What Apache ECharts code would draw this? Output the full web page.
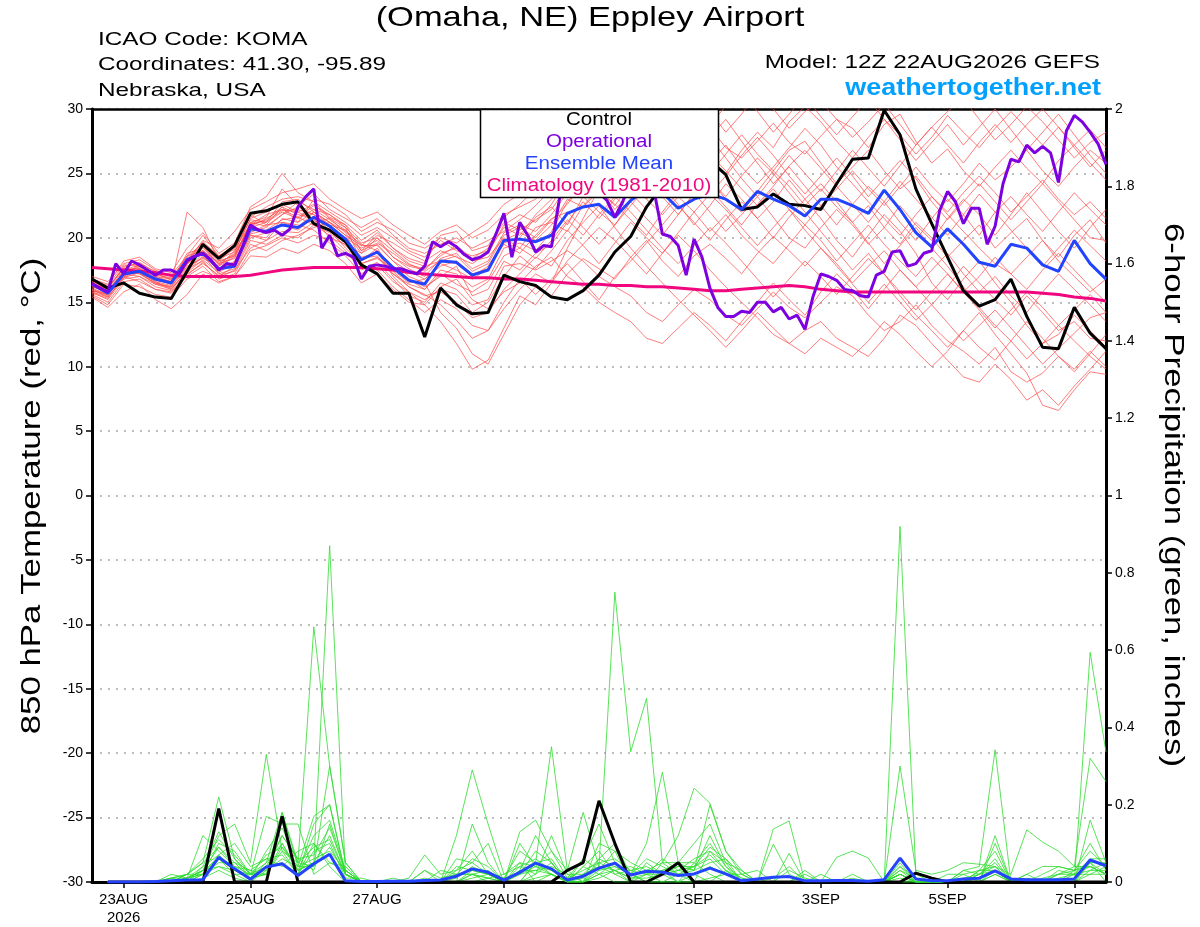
<!DOCTYPE html>
<html><head><meta charset="utf-8">
<script src="https://cdn.jsdelivr.net/npm/echarts@6/dist/echarts.min.js"></script>
<style>html,body{margin:0;padding:0;background:#fff}#c{width:1200px;height:927px}</style>
</head><body><div id="c"></div>
<script>
const FONT = '"Liberation Sans", Arial, Helvetica, sans-serif';

// ---- axis ticks (hours after 12Z 22AUG2026) ----
const tickHours = [12, 60, 108, 156, 228, 276, 324, 372];
const tickLabels = ['23AUG\n2026', '25AUG', '27AUG', '29AUG', '1SEP', '3SEP', '5SEP', '7SEP'];

// ---- 850 hPa temperature (6-hourly, 65 steps) ----
const controlTemp = [16.8,16.1,16.5,15.7,15.4,15.3,17.4,19.5,18.4,19.4,
 21.9,22.1,22.6,22.8,21.1,20.6,19.7,17.9,17.2,15.7,15.7,12.3,
 16.1,14.8,14.1,14.2,17.1,16.6,16.3,15.4,15.2,15.9,17.1,18.9,
 20.1,22.4,24.0,25.0,26.5,26.0,24.9,22.2,22.4,23.4,22.6,22.5,
 22.2,24.2,26.1,26.2,29.9,28.0,23.8,21.1,18.5,15.9,14.7,15.2,
 16.8,13.9,11.5,11.4,14.6,12.6,11.4];
const meanTemp = [16.4,15.7,17.2,17.4,16.8,16.5,18.3,18.8,17.6,17.8,
 20.7,20.5,21.0,20.8,21.6,20.9,19.9,18.3,18.9,17.7,16.7,16.4,
 18.2,18.1,17.1,17.5,19.8,19.9,19.7,20.2,21.9,22.4,22.6,21.6,
 22.9,23.8,23.5,22.3,23.0,23.4,23.0,22.2,23.6,23.0,22.5,21.7,
 23.0,23.0,22.5,21.9,23.7,22.2,20.4,19.3,20.7,19.5,18.1,17.8,
 19.5,19.2,17.9,17.4,19.8,18.0,16.8];
const climoTemp = [17.7,17.6,17.5,17.4,17.3,17.1,17.0,17.0,17.0,17.0,
 17.1,17.3,17.5,17.6,17.7,17.7,17.7,17.7,17.6,17.5,17.3,17.2,
 17.1,17.0,16.9,16.9,16.8,16.8,16.7,16.6,16.5,16.4,16.4,16.3,
 16.3,16.2,16.2,16.1,16.0,15.9,15.9,16.0,16.1,16.2,16.3,16.2,
 16.0,15.9,15.8,15.8,15.8,15.8,15.8,15.8,15.8,15.8,15.8,15.8,
 15.8,15.8,15.7,15.6,15.4,15.3,15.1];
// operational run, 3-hourly (129 steps)
const operationalTemp = [16.45,16.1,15.8,18.0,17.2,18.2,17.9,17.5,17.1,17.5,
 17.5,17.2,18.2,18.6,18.8,18.3,17.5,18.0,17.9,19.3,
 21.0,20.6,20.4,20.6,20.2,20.7,22.4,23.2,23.8,19.2,
 20.2,18.6,18.8,18.5,16.8,17.8,17.9,17.8,17.6,17.6,
 17.4,17.2,17.8,19.7,19.3,19.7,19.3,18.7,18.3,18.5,
 18.9,20.3,21.9,18.5,21.2,20.2,18.9,19.4,19.3,23.0,
 24.5,25.0,24.0,24.5,23.5,22.9,21.6,22.8,24.5,25.5,
 25.0,23.5,20.3,20.1,19.4,17.1,19.9,18.5,16.1,14.6,
 13.9,13.9,14.3,14.2,15.0,15.0,14.25,14.6,13.7,14.0,
 12.9,15.4,17.2,17.0,16.7,16.0,15.9,15.5,15.4,17.1,
 17.4,18.9,19.0,17.8,18.0,18.8,19.0,22.1,23.6,22.8,
 21.1,22.3,22.3,19.5,20.9,24.2,26.1,25.9,27.2,26.6,
 27.1,26.6,24.3,28.3,29.5,29.0,28.2,27.3,25.7];

// ensemble members (6-hourly)
const memberTemp01 = [16.2,15.9,17.5,17.9,17.2,16.8,18.5,19.6,18.4,18.9,
 21.5,22.0,22.6,22.0,21.4,20.5,20.0,19.2,19.8,18.5,17.6,17.0,
 18.4,18.8,17.6,18.2,20.4,21.0,20.5,21.8,23.5,24.6,25.2,24.0,
 25.5,26.8,27.5,26.2,27.8,28.6,27.0,26.2,27.5,28.9,27.4,26.5,
 27.9,29.2,28.5,27.0,28.8,29.6,27.5,25.8,26.9,25.2,24.0,25.5,
 26.8,25.4,24.2,26.0,27.2,25.8,24.5];
const memberTemp02 = [15.8,15.2,16.8,17.0,16.2,15.9,17.2,18.0,17.1,17.4,
 19.8,19.5,20.2,20.0,21.0,20.2,19.0,17.5,18.1,16.8,15.5,15.0,
 16.5,16.0,14.8,15.2,17.8,18.0,17.5,18.2,19.0,18.2,17.0,16.2,
 15.5,14.2,13.5,14.8,16.0,15.2,14.0,13.2,14.5,15.8,14.6,13.8,
 15.0,16.2,15.5,14.0,12.8,13.5,14.8,13.2,12.0,11.2,10.2,11.5,
 9.6,8.8,9.5,10.8,9.8,11.2,10.0];
const memberTemp03 = [16.8,16.4,18.2,18.5,17.6,17.3,19.2,20.4,18.8,19.6,
 22.4,23.2,25.0,23.5,22.8,21.6,21.0,19.8,20.6,19.2,18.4,18.0,
 20.2,20.5,19.0,19.4,21.2,20.6,21.4,22.2,24.0,23.2,22.0,21.0,
 22.5,24.0,23.2,21.8,23.4,24.5,23.0,22.0,23.6,25.2,24.0,22.5,
 23.8,22.4,21.2,22.5,20.8,19.5,21.2,20.0,18.5,19.8,21.0,19.2,
 20.4,21.5,19.8,18.5,20.2,21.4,19.6];
const memberTemp04 = [15.5,14.8,16.4,16.2,15.6,15.4,16.8,17.4,16.9,17.5,
 19.2,19.8,20.5,20.4,21.2,21.5,20.4,18.8,19.5,18.2,17.0,16.5,
 14.2,13.0,11.0,10.2,12.5,14.8,16.2,15.5,17.2,18.4,17.6,16.8,
 18.5,19.8,18.2,17.0,18.6,19.5,18.4,17.2,18.8,20.1,19.0,17.8,
 19.2,18.0,16.5,17.8,19.0,17.5,16.2,17.5,18.8,17.2,15.8,17.0,
 15.5,14.2,15.8,17.2,16.0,14.8,13.5];
const memberTemp05 = [16.0,15.6,17.0,17.6,16.8,16.4,22.0,20.8,18.2,18.6,
 21.0,21.8,22.2,21.6,22.5,21.8,20.8,18.2,19.0,17.8,16.8,16.0,
 17.5,17.2,16.2,16.8,19.2,19.6,19.0,20.5,22.8,24.0,26.5,25.2,
 26.8,28.5,29.6,28.0,26.5,27.8,29.2,27.5,25.8,24.2,25.5,24.0,
 22.5,21.0,22.6,24.0,22.8,21.2,19.8,21.5,23.0,21.8,20.2,22.0,
 23.2,21.8,20.5,22.0,23.5,22.2,21.0];
const memberTemp06 = [16.5,16.0,17.8,18.0,17.0,16.8,18.0,19.0,17.5,18.0,
 20.2,20.0,21.5,21.2,22.0,21.2,20.5,19.5,19.0,17.0,15.8,14.8,
 13.5,11.8,9.8,10.5,13.0,15.5,14.8,16.5,19.2,21.5,23.8,22.5,
 24.2,25.8,24.0,22.6,21.0,22.5,24.2,23.0,21.5,22.8,24.5,23.0,
 21.5,19.8,18.5,20.2,21.8,20.5,18.8,16.5,15.2,16.8,18.2,16.5,
 15.0,13.2,11.8,12.5,14.0,12.8,11.5];
const memberTemp07 = [16.2,15.8,17.4,17.7,16.9,16.6,18.8,19.2,18.0,18.4,
 21.2,21.6,23.8,22.5,23.4,22.2,21.5,20.8,21.5,20.2,19.2,18.8,
 19.5,20.0,19.2,19.8,20.5,21.4,22.5,23.8,25.5,27.0,28.2,27.5,
 28.8,30.0,29.2,27.5,26.0,24.5,23.2,24.8,26.2,25.0,23.5,22.0,
 20.5,19.0,17.5,18.8,17.2,15.5,14.0,12.8,11.5,12.8,14.2,12.5,
 11.0,9.5,7.0,6.6,8.2,9.6,9.4];
const memberTemp08 = [16.6,16.2,17.6,17.2,16.5,16.2,17.8,18.4,17.8,19.0,
 20.5,20.8,21.8,22.4,21.8,20.8,19.8,18.5,18.8,17.5,16.5,16.8,
 18.0,17.5,16.8,17.6,19.5,18.8,20.2,21.5,22.0,20.8,19.5,21.0,
 22.8,21.5,20.2,21.8,23.5,22.0,20.5,21.8,23.2,21.6,20.0,19.2,
 20.8,22.2,21.0,19.5,20.8,22.5,21.0,19.8,21.5,23.0,21.8,20.2,
 21.8,23.5,22.0,20.5,19.2,20.8,22.2];
const memberTemp09 = [15.9,15.5,17.2,17.4,16.6,16.0,17.5,18.8,17.4,18.2,
 20.8,21.2,22.0,21.5,22.2,21.8,21.0,19.0,20.2,19.6,18.8,18.2,
 19.0,18.5,18.0,18.8,21.0,21.8,21.2,22.6,24.5,25.8,24.6,26.0,
 27.2,25.8,24.5,26.0,27.5,26.2,25.0,26.8,28.2,27.0,29.0,30.2,
 29.0,27.5,26.2,27.8,29.2,28.0,26.5,27.8,29.5,28.2,27.0,28.5,
 29.8,28.5,27.2,28.6,27.0,25.5,26.8];
const memberTemp10 = [16.4,15.7,17.2,17.0,16.4,16.2,17.6,18.2,16.8,17.2,
 19.5,19.0,19.8,20.2,20.8,21.2,20.2,18.0,18.5,17.2,16.2,15.5,
 15.8,15.0,13.8,14.2,16.0,17.2,18.5,17.8,19.8,21.2,22.5,20.8,
 19.2,17.8,16.5,15.2,14.0,12.8,11.5,12.8,14.2,13.0,11.8,11.0,
 12.2,11.5,10.8,12.0,13.5,12.5,11.2,10.0,11.2,12.8,11.5,10.5,
 12.0,13.5,12.2,10.8,9.6,11.0,12.5];
const memberTemp11 = [17.0,16.6,18.0,18.3,17.5,17.0,18.2,19.8,19.2,20.5,
 22.2,22.8,23.5,23.8,24.2,23.0,22.2,21.5,22.0,21.0,20.2,19.5,
 20.5,21.0,20.0,20.6,21.8,22.4,23.0,24.5,26.2,27.8,26.5,27.2,
 26.0,24.8,26.2,27.8,26.5,25.0,26.5,28.0,26.5,25.2,26.8,27.5,
 25.8,24.2,25.5,26.8,25.2,23.8,24.8,23.2,22.0,23.5,24.8,23.5,
 22.0,23.2,24.5,23.0,21.8,22.8,21.5];
const memberTemp12 = [15.6,15.0,16.6,16.8,16.0,15.8,17.0,17.8,16.6,17.0,
 19.0,19.4,20.0,19.6,20.2,19.8,18.8,17.8,17.5,16.2,15.2,14.2,
 15.2,14.5,13.2,12.8,14.5,16.0,17.2,16.5,18.2,19.5,20.8,19.8,
 18.5,17.2,18.8,20.2,19.0,17.5,16.2,15.0,13.8,12.5,11.8,12.8,
 13.5,12.2,11.5,10.8,12.2,14.0,13.2,11.8,10.5,9.2,8.8,10.2,
 9.0,7.4,8.2,7.0,8.5,9.8,11.2];
const memberTemp13 = [16.3,15.8,17.3,17.5,16.7,16.5,18.0,19.0,18.0,18.8,
 21.8,21.0,22.4,21.8,21.5,20.0,19.5,18.8,20.0,18.5,17.8,17.5,
 18.8,19.2,18.2,18.5,20.0,19.2,20.8,21.2,20.5,22.5,23.8,22.2,
 23.5,22.2,24.8,25.5,24.0,25.8,27.2,25.5,24.2,25.5,27.0,28.5,
 27.2,25.5,24.2,22.8,21.5,20.2,21.8,23.2,21.8,20.5,19.2,18.0,
 17.2,18.5,19.8,18.2,17.0,15.8,16.8];
const memberTemp14 = [15.8,15.4,16.9,17.3,16.4,16.0,17.4,18.6,17.2,17.6,
 20.0,20.4,21.0,20.6,21.6,20.6,19.2,18.0,18.4,17.6,16.8,16.2,
 17.0,17.8,15.5,16.0,18.2,17.5,18.8,19.5,21.2,22.8,21.5,23.0,
 24.5,23.0,21.8,23.2,22.0,20.5,21.8,20.2,19.0,18.0,19.5,21.0,
 19.8,18.2,19.6,21.0,19.5,18.2,17.0,18.5,17.2,15.8,17.0,18.5,
 17.2,16.0,17.5,18.8,17.5,16.2,15.0];
const memberTemp15 = [16.6,16.0,17.0,18.0,17.4,17.1,18.6,20.2,18.6,19.4,
 21.6,22.4,23.0,23.2,22.8,22.0,21.2,20.2,20.8,20.0,19.0,18.5,
 19.8,19.0,18.6,19.0,20.8,20.2,21.8,23.0,24.8,23.5,25.0,24.2,
 23.0,24.5,25.8,24.2,25.0,26.5,25.2,23.8,22.5,23.8,22.2,21.0,
 22.5,23.8,25.2,23.8,22.5,24.0,25.5,24.0,22.8,24.2,25.8,24.5,
 25.5,26.8,25.2,24.0,25.5,26.8,25.8];
const memberTemp16 = [15.4,14.6,15.8,16.4,15.2,14.5,15.6,17.2,16.5,17.0,
 18.6,18.5,19.2,18.8,19.5,19.0,18.0,16.5,17.2,16.0,15.0,14.8,
 16.2,16.8,15.2,14.5,15.8,16.5,17.8,18.5,17.0,16.2,15.0,14.2,
 13.5,12.2,11.8,13.0,14.2,13.2,12.0,13.5,15.0,16.5,15.2,14.0,
 15.8,17.2,16.0,14.5,16.0,17.5,16.2,14.8,16.2,17.8,16.5,15.2,
 14.0,15.5,14.2,12.8,13.5,12.2,12.0];
const memberTemp17 = [16.1,15.6,17.1,17.3,16.6,16.3,17.9,19.4,17.9,18.6,
 21.2,20.9,21.8,22.8,22.2,21.4,20.6,19.0,19.6,18.8,17.9,17.6,
 18.6,19.4,18.4,19.2,21.6,22.6,23.8,25.2,27.5,29.0,30.5,29.2,
 27.6,26.0,27.8,29.5,31.0,29.8,28.2,29.6,31.2,30.0,28.5,29.8,
 30.6,29.2,27.8,29.0,30.4,28.8,27.2,28.6,29.8,30.8,29.2,27.6,
 28.8,30.2,29.0,27.6,26.2,27.4,28.2];
const memberTemp18 = [16.0,15.4,16.9,17.6,16.9,16.5,17.7,18.5,17.6,18.0,
 20.4,21.0,21.2,20.8,22.0,21.0,19.6,18.2,19.2,17.4,16.2,15.6,
 14.8,13.6,12.2,12.8,15.0,16.8,15.6,16.8,18.0,16.6,15.2,17.0,
 18.2,19.6,21.0,22.5,21.2,19.8,21.4,22.8,21.5,20.0,21.6,23.0,
 24.2,22.8,21.2,19.6,18.0,19.4,20.8,19.2,17.8,16.2,14.6,13.2,
 12.0,10.6,11.8,13.2,12.0,10.8,9.8];
const memberTemp19 = [16.7,16.3,17.9,17.8,17.1,16.9,18.4,19.3,18.2,19.2,
 21.0,21.4,22.4,21.2,23.0,22.6,21.8,20.5,21.2,20.6,19.6,19.2,
 20.0,19.6,20.4,21.2,22.6,23.4,24.6,23.2,25.8,26.8,25.5,27.8,
 29.0,27.6,26.2,24.8,26.4,27.8,26.2,24.6,23.2,24.8,26.4,25.0,
 23.6,25.2,26.8,25.4,24.0,25.6,27.2,28.6,27.2,25.8,27.4,28.8,
 27.4,28.8,30.0,28.6,27.2,28.4,27.0];
const memberTemp20 = [15.7,15.3,17.0,16.6,16.0,15.7,17.1,18.1,17.0,17.8,
 20.2,19.8,21.2,21.0,20.6,19.6,18.6,17.2,17.9,16.6,15.8,15.2,
 16.0,15.6,14.2,15.0,17.0,18.6,17.6,19.0,20.6,19.4,18.0,19.6,
 21.2,20.0,18.8,20.4,22.0,23.4,22.2,20.8,19.4,20.8,22.2,20.6,
 19.2,17.8,16.4,15.0,16.4,15.0,13.6,14.8,13.4,12.0,13.2,14.4,
 13.0,11.6,10.2,11.4,12.6,13.8,14.2];
const memberTemp21 = [16.3,16.1,17.7,18.1,17.3,16.7,18.1,19.7,18.6,19.1,
 21.4,21.2,22.8,23.0,22.0,21.2,20.2,19.4,20.4,19.2,18.2,17.8,
 18.2,18.0,17.0,17.8,19.8,20.4,19.8,21.0,23.0,22.4,23.6,22.6,
 21.4,20.2,22.0,23.6,25.0,23.8,22.4,21.0,22.6,24.0,25.6,26.8,
 25.4,24.0,22.6,21.2,22.8,24.4,23.0,21.6,20.2,21.8,23.4,22.0,
 20.6,19.2,17.8,19.2,20.6,19.4,18.2];
const memberTemp22 = [16.5,15.9,17.3,17.8,17.0,16.6,18.2,18.9,17.8,18.5,
 20.9,21.5,22.2,22.0,22.6,21.5,20.8,19.6,20.0,19.0,18.0,17.4,
 18.2,18.6,17.4,18.0,20.2,20.8,20.0,21.4,22.6,24.2,25.6,26.8,
 28.2,29.4,30.6,29.0,27.4,28.8,30.2,31.4,29.8,28.2,29.6,31.0,
 29.4,28.0,29.4,30.8,29.2,27.6,26.0,27.4,28.8,27.2,28.6,30.0,
 28.4,26.8,28.2,29.6,28.0,26.4,25.0];
const memberTemp23 = [15.9,15.6,17.4,17.2,16.5,16.1,17.3,18.3,17.3,18.1,
 20.3,20.6,21.4,21.6,21.0,20.4,19.4,18.4,18.6,17.2,16.4,16.0,
 17.2,16.4,15.8,16.6,18.6,19.2,18.4,19.8,21.4,20.2,21.8,23.2,
 22.0,20.6,19.2,18.0,19.4,20.8,19.6,18.2,16.8,15.4,16.8,18.2,
 17.0,15.6,17.0,18.4,17.2,15.8,14.4,15.8,17.2,15.8,14.4,13.0,
 14.4,15.8,14.6,13.2,14.4,15.6,14.2];
const memberTemp24 = [16.4,16.1,17.6,17.6,16.8,16.6,18.6,19.0,18.1,18.7,
 21.1,21.3,22.1,22.2,21.8,21.0,20.6,19.4,19.4,18.2,17.4,16.8,
 17.8,18.2,17.2,17.6,19.6,20.0,21.6,22.4,21.0,23.2,24.4,25.6,
 24.4,23.0,24.6,26.2,24.8,23.4,24.8,26.4,27.8,26.4,24.8,23.4,
 24.8,26.2,24.8,23.2,24.6,26.0,24.6,22.8,21.4,22.8,24.2,22.8,
 21.4,22.8,24.2,22.8,21.4,20.0,19.8];

// ---- 6-hour precipitation (inches), no value at hour 0 ----
const controlPrecip = [null,0,0,0,0,0,0,0,0.19,0,
 0,0,0.17,0,0,0,0,0,0,0,0,0,
 0,0,0,0,0,0,0,0,0.03,0.05,0.21,0.10,
 0,0,0.02,0.05,0,0,0,0,0,0,0,0,
 0,0,0,0,0,0,0.023,0.01,0,0,0,0,
 0,0,0,0,0,0,0];
const meanPrecip = [null,0,0,0,0.001,0.003,0.005,0.006,0.064,0.034,
 0.007,0.039,0.047,0.017,0.047,0.072,0.003,0.001,0.001,0.002,0.002,0.004,
 0.005,0.015,0.034,0.025,0.005,0.025,0.049,0.034,0.005,0.015,0.036,0.049,
 0.018,0.028,0.025,0.017,0.021,0.036,0.021,0.003,0.008,0.012,0.014,0.003,
 0.003,0.004,0.004,0.002,0.006,0.062,0.008,0.003,0.003,0.008,0.01,0.029,
 0.008,0.006,0.006,0.006,0.008,0.057,0.042];
const memberPrecip01 = [null,0,0,0,0,0.01,0.02,0.05,0.22,0.06,
 0.02,0.05,0.10,0.03,0.05,0.87,0.02,0,0,0,0,0,
 0,0,0,0.01,0,0,0.05,0.35,0.03,0,0.02,0,
 0,0,0,0,0.02,0,0,0,0,0,0,0,
 0,0,0,0,0,0.92,0.02,0,0,0,0,0,
 0,0,0,0,0,0.05,0.02];
const memberPrecip02 = [null,0,0,0,0,0,0.01,0.12,0.08,0.04,
 0.03,0.02,0.18,0.05,0.66,0.30,0.05,0,0,0,0.01,0.07,
 0.02,0.03,0.08,0.02,0,0.03,0.12,0.05,0,0.04,0.02,0.05,
 0.02,0,0.03,0,0.05,0.02,0,0,0,0.01,0.04,0,
 0,0,0,0,0,0.04,0.01,0,0,0,0,0.12,
 0,0.01,0,0,0,0.16,0.05];
const memberPrecip03 = [null,0,0,0,0,0.02,0.01,0.03,0.12,0.15,
 0.05,0.33,0.08,0.02,0.10,0.04,0,0,0,0,0,0.03,
 0,0.12,0.29,0.15,0.02,0.05,0,0.02,0,0,0.06,0.1,
 0.02,0,0,0,0,0.01,0.02,0.02,0.03,0,0,0,
 0,0,0,0,0,0,0,0,0,0.03,0.04,0.342,
 0,0,0,0,0,0.05,0];
const memberPrecip04 = [null,0,0,0,0,0,0,0.02,0.10,0.08,
 0.02,0.17,0.15,0.15,0.02,0.05,0.03,0,0,0,0,0,
 0,0.06,0.05,0.10,0,0.13,0.16,0.08,0.03,0.18,0.04,0.75,
 0.337,0.475,0.05,0.02,0,0,0.03,0,0,0.137,0.158,0,
 0.02,0,0,0,0,0.04,0,0,0,0,0.02,0.03,
 0,0,0,0,0.02,0.03,0.05];
const memberPrecip05 = [null,0,0,0,0,0,0.02,0.05,0.09,0.05,
 0.01,0.05,0.18,0.04,0.17,0.20,0.02,0,0,0,0,0,
 0,0,0.15,0.05,0,0.10,0.04,0.08,0.01,0.06,0.15,0.05,
 0.02,0.1,0.284,0.05,0.03,0.2,0.08,0.02,0,0,0.074,0,
 0,0.064,0.08,0.062,0,0,0,0,0,0,0,0.10,
 0,0,0,0,0,0.594,0.336];
const memberPrecip06 = [null,0,0,0,0,0,0,0.04,0.07,0.03,
 0.02,0.02,0.08,0.05,0.04,0.30,0.05,0,0,0,0,0,
 0,0,0.02,0,0,0,0.02,0.05,0,0,0.1,0.08,
 0.05,0.03,0.05,0.12,0.243,0.204,0.08,0.03,0,0.098,0.02,0,
 0,0,0,0,0,0.30,0.03,0.02,0.03,0.05,0.046,0.04,
 0.02,0.135,0.103,0.08,0.04,0.32,0.26];
const memberPrecip07 = [null,0,0,0,0,0.01,0.01,0.03,0.06,0.02,
 0,0.04,0.05,0.02,0.08,0.10,0.01,0.01,0,0.01,0,0,
 0,0.03,0.05,0.02,0,0.05,0.04,0.02,0,0,0.02,0.03,
 0,0,0.05,0.05,0.1,0.15,0.05,0,0,0,0,0,
 0,0,0.02,0,0,0.02,0,0,0,0.03,0.02,0.05,
 0,0.02,0.04,0.04,0.03,0.05,0.05];
const memberPrecip08 = [null,0,0,0,0,0,0.01,0.02,0.05,0.05,
 0.03,0.06,0.07,0.02,0.15,0.20,0.02,0,0,0,0,0,
 0,0,0.03,0.02,0,0,0.05,0.02,0,0.06,0.03,0.08,
 0,0.05,0.02,0,0,0.08,0.05,0.03,0,0,0,0,
 0,0,0,0,0,0.02,0,0,0,0,0.03,0.03,
 0,0,0.02,0.04,0.03,0.04,0.02];
const memberPrecip09 = [null,0,0,0,0,0,0,0.03,0.04,0.02,
 0.02,0.03,0.12,0.06,0.03,0.15,0.02,0,0,0,0,0,
 0.03,0.02,0.02,0.03,0,0.02,0.03,0.04,0.02,0.02,0.04,0.02,
 0,0.02,0,0.02,0.04,0.06,0.02,0,0,0,0,0,
 0,0,0,0,0,0.02,0,0,0.02,0.02,0,0.03,
 0,0,0,0.02,0.04,0.04,0.02];
const memberPrecip10 = [null,0,0,0,0,0,0.02,0.02,0.07,0.1,
 0.04,0.06,0.04,0.08,0.1,0.05,0.04,0,0,0,0,0,
 0,0,0.01,0.02,0.01,0.02,0.04,0.03,0,0.01,0.05,0.03,
 0.04,0.02,0.03,0.04,0.03,0.05,0.06,0,0,0,0,0,
 0,0,0,0,0,0.03,0,0,0,0,0,0.02,
 0,0,0,0,0,0.03,0.03];
const memberPrecip11 = [null,0,0,0,0,0,0,0.01,0.03,0.01,
 0,0.03,0.06,0.04,0.06,0.08,0.03,0,0,0,0,0,
 0,0,0,0,0,0,0.01,0.02,0,0,0.01,0.03,
 0.01,0.01,0.02,0.03,0.02,0.04,0.02,0,0,0,0,0,
 0,0,0,0,0,0.01,0,0,0,0,0,0.02,
 0,0,0,0,0,0.02,0.02];
const memberPrecip12 = [null,0,0,0,0,0,0.01,0.02,0.04,0.03,
 0.01,0.02,0.1,0.03,0.05,0.12,0.02,0,0,0,0,0.03,
 0.01,0.02,0.02,0.01,0.02,0.04,0.02,0.12,0.02,0,0.03,0.04,
 0.02,0.03,0.03,0.05,0.05,0.1,0.04,0.01,0,0,0,0.02,
 0,0,0,0,0,0.02,0,0,0,0,0.03,0.04,
 0,0,0,0.02,0.02,0.02,0.04];
const memberPrecip13 = [null,0,0,0,0,0.01,0.02,0.06,0.11,0.07,
 0.02,0.04,0.12,0.06,0.07,0.14,0.03,0,0,0,0,0.01,
 0,0.02,0.06,0.04,0,0.04,0.06,0.03,0.01,0.03,0.05,0.06,
 0.03,0.04,0.02,0.03,0.06,0.08,0.03,0.01,0,0,0.03,0.01,
 0,0,0,0,0,0.03,0.01,0,0,0.01,0.02,0.06,
 0,0,0.01,0.02,0.03,0.08,0.04];
const memberPrecip14 = [null,0,0,0,0,0,0.01,0.04,0.13,0.06,
 0.01,0.08,0.14,0.05,0.09,0.11,0.02,0,0,0,0,0,
 0,0.01,0.04,0.02,0.01,0.08,0.05,0.06,0,0.02,0.06,0.04,
 0.02,0.06,0.04,0.02,0.03,0.12,0.04,0,0,0,0,0,
 0,0,0,0,0,0.02,0,0,0,0.02,0.03,0.08,
 0,0,0,0.03,0.02,0.06,0.06];
const memberPrecip15 = [null,0,0,0,0,0,0.01,0.03,0.09,0.04,
 0.02,0.07,0.09,0.03,0.12,0.16,0.03,0,0,0,0,0,
 0,0.04,0.03,0.02,0,0.02,0.08,0.05,0,0.04,0.08,0.02,
 0.03,0.02,0.06,0.03,0.04,0.09,0.06,0.02,0,0,0,0.03,
 0,0,0.01,0,0,0.05,0,0,0,0,0.02,0.04,
 0,0.02,0,0,0.03,0.10,0.03];
const memberPrecip16 = [null,0,0,0,0,0.01,0,0.02,0.06,0.03,
 0.01,0.02,0.09,0.04,0.04,0.09,0.02,0,0,0,0,0,
 0,0,0.02,0.01,0,0.03,0.03,0.02,0,0,0.04,0.03,
 0.01,0.02,0.02,0.04,0.04,0.07,0.03,0,0,0,0,0,
 0,0,0,0,0,0.02,0,0,0,0,0.01,0.03,
 0,0,0,0.01,0.02,0.04,0.02];

const memberTemps = [memberTemp01,memberTemp02,memberTemp03,memberTemp04,memberTemp05,memberTemp06,memberTemp07,memberTemp08,
  memberTemp09,memberTemp10,memberTemp11,memberTemp12,memberTemp13,memberTemp14,memberTemp15,memberTemp16,
  memberTemp17,memberTemp18,memberTemp19,memberTemp20,memberTemp21,memberTemp22,memberTemp23,memberTemp24];
const memberPrecips = [memberPrecip01,memberPrecip02,memberPrecip03,memberPrecip04,memberPrecip05,memberPrecip06,
  memberPrecip07,memberPrecip08,memberPrecip09,memberPrecip10,memberPrecip11,memberPrecip12,
  memberPrecip13,memberPrecip14,memberPrecip15,memberPrecip16];

// pair each value with its forecast hour
function pairs(arr, stepHours) {
  return arr.map((v, i) => [i * stepHours, (v === null || v === undefined) ? '-' : v]);
}

const series = [];
memberTemps.forEach((m, k) => series.push({
  name: 'member' + k, type: 'line', xAxisIndex: 0, yAxisIndex: 0, data: pairs(m, 6),
  symbol: 'none', silent: true, z: 2,
  lineStyle: { color: '#ff4a4a', width: 0.8, opacity: 0.9 }
}));
memberPrecips.forEach((m, k) => series.push({
  name: 'pmember' + k, type: 'line', xAxisIndex: 0, yAxisIndex: 1, data: pairs(m, 6),
  symbol: 'none', silent: true, z: 2,
  lineStyle: { color: '#2edc2e', width: 0.8 }
}));
series.push({ name: 'Climatology', type: 'line', yAxisIndex: 0, data: pairs(climoTemp, 6),
  symbol: 'none', silent: true, z: 3, lineStyle: { color: '#f0077f', width: 3 } });
series.push({ name: 'ControlP', type: 'line', yAxisIndex: 1, data: pairs(controlPrecip, 6),
  symbol: 'none', silent: true, z: 4, lineStyle: { color: '#000', width: 3 } });
series.push({ name: 'MeanP', type: 'line', yAxisIndex: 1, data: pairs(meanPrecip, 6),
  symbol: 'none', silent: true, z: 5, lineStyle: { color: '#2343ff', width: 3 } });
series.push({ name: 'Control', type: 'line', yAxisIndex: 0, data: pairs(controlTemp, 6),
  symbol: 'none', silent: true, z: 4, lineStyle: { color: '#000', width: 3 } });
series.push({ name: 'Mean', type: 'line', yAxisIndex: 0, data: pairs(meanTemp, 6),
  symbol: 'none', silent: true, z: 5, lineStyle: { color: '#2343ff', width: 3 } });
series.push({ name: 'Operational', type: 'line', yAxisIndex: 0, data: pairs(operationalTemp, 3),
  symbol: 'none', silent: true, z: 6, lineStyle: { color: '#7d00e0', width: 3 } });

const chart = echarts.init(document.getElementById('c'), null, { renderer: 'canvas' });
const txt = (t, x, y, font, color, align, extra) => Object.assign({
  type: 'text', x: x, y: y, z: 200,
  style: { text: t, fill: color, font: font + ' ' + FONT, align: align, textAlign: align,
           verticalAlign: 'middle', textVerticalAlign: 'middle' }
}, extra || {});

chart.setOption({
  animation: false,
  backgroundColor: '#ffffff',
  grid: { left: 92, right: 94, top: 109, bottom: 44, containLabel: false },
  xAxis: [{
    type: 'value', min: 0, max: 384, position: 'bottom',
    axisLine: { show: true, onZero: false, lineStyle: { color: '#000', width: 3 } },
    axisTick: { show: true, customValues: tickHours, length: 6, inside: false, lineStyle: { color: '#000', width: 1.5 } },
    axisLabel: { show: true, customValues: tickHours, margin: 9, color: '#000', fontSize: 15, fontFamily: FONT, lineHeight: 18,
      formatter: v => { const k = tickHours.indexOf(Math.round(v)); return k >= 0 ? tickLabels[k] : ''; } },
    splitLine: { show: false }
  }, {
    type: 'value', min: 0, max: 384, position: 'top',
    axisLine: { show: true, onZero: false, lineStyle: { color: '#000', width: 2.5 } },
    axisTick: { show: false }, axisLabel: { show: false }, splitLine: { show: false }
  }],
  yAxis: [{
    type: 'value', min: -30, max: 30, interval: 5, position: 'left',
    axisLine: { show: true, onZero: false, lineStyle: { color: '#000', width: 3 } },
    axisTick: { show: true, length: 6, lineStyle: { color: '#000', width: 1.5 } },
    axisLabel: { color: '#000', fontSize: 14, fontFamily: FONT, margin: 9 },
    splitLine: { show: true, lineStyle: { color: '#a8a8a8', width: 1.5, type: [2, 6] } }
  }, {
    type: 'value', min: 0, max: 2, interval: 0.2, position: 'right',
    axisLine: { show: true, onZero: false, lineStyle: { color: '#000', width: 3 } },
    axisTick: { show: true, length: 6, lineStyle: { color: '#000', width: 1.5 } },
    axisLabel: { color: '#000', fontSize: 14, fontFamily: FONT, margin: 9,
      formatter: v => String(Math.round(v * 10) / 10) },
    splitLine: { show: false }
  }],
  series: series,
  graphic: [
    txt('(Omaha, NE) Eppley Airport', 590, 18, '28px', '#000', 'center', { scaleX: 1.23 }),
    txt('ICAO Code: KOMA', 98, 40, '19px', '#000', 'left', { scaleX: 1.28 }),
    txt('Coordinates: 41.30, -95.89', 98, 65, '19px', '#000', 'left', { scaleX: 1.28 }),
    txt('Nebraska, USA', 98, 91, '19px', '#000', 'left', { scaleX: 1.28 }),
    txt('Model: 12Z 22AUG2026 GEFS', 1100, 63, '19px', '#000', 'right', { scaleX: 1.28 }),
    txt('weathertogether.net', 1101, 89, 'bold 23px', '#00a0ff', 'right', { scaleX: 1.17 }),
    txt('850 hPa Temperature (red, \u00B0C)', 33, 496, '27px', '#000', 'center', { rotation: Math.PI / 2, scaleX: 1.29 }),
    txt('6-hour Precipitation (green, inches)', 1172, 495, '27px', '#000', 'center', { rotation: -Math.PI / 2, scaleX: 1.29 }),
    { type: 'rect', z: 190, shape: { x: 480.5, y: 109.5, width: 238, height: 88 },
      style: { fill: '#fff', stroke: '#000', lineWidth: 1.5 } },
    txt('Control', 599, 120, '18px', '#000', 'center', { scaleX: 1.14 }),
    txt('Operational', 599, 142, '18px', '#7d00e0', 'center', { scaleX: 1.14 }),
    txt('Ensemble Mean', 599, 164, '18px', '#2343ff', 'center', { scaleX: 1.14 }),
    txt('Climatology (1981-2010)', 599, 186, '18px', '#f0077f', 'center', { scaleX: 1.14 })
  ]
});
</script>
</body></html>
